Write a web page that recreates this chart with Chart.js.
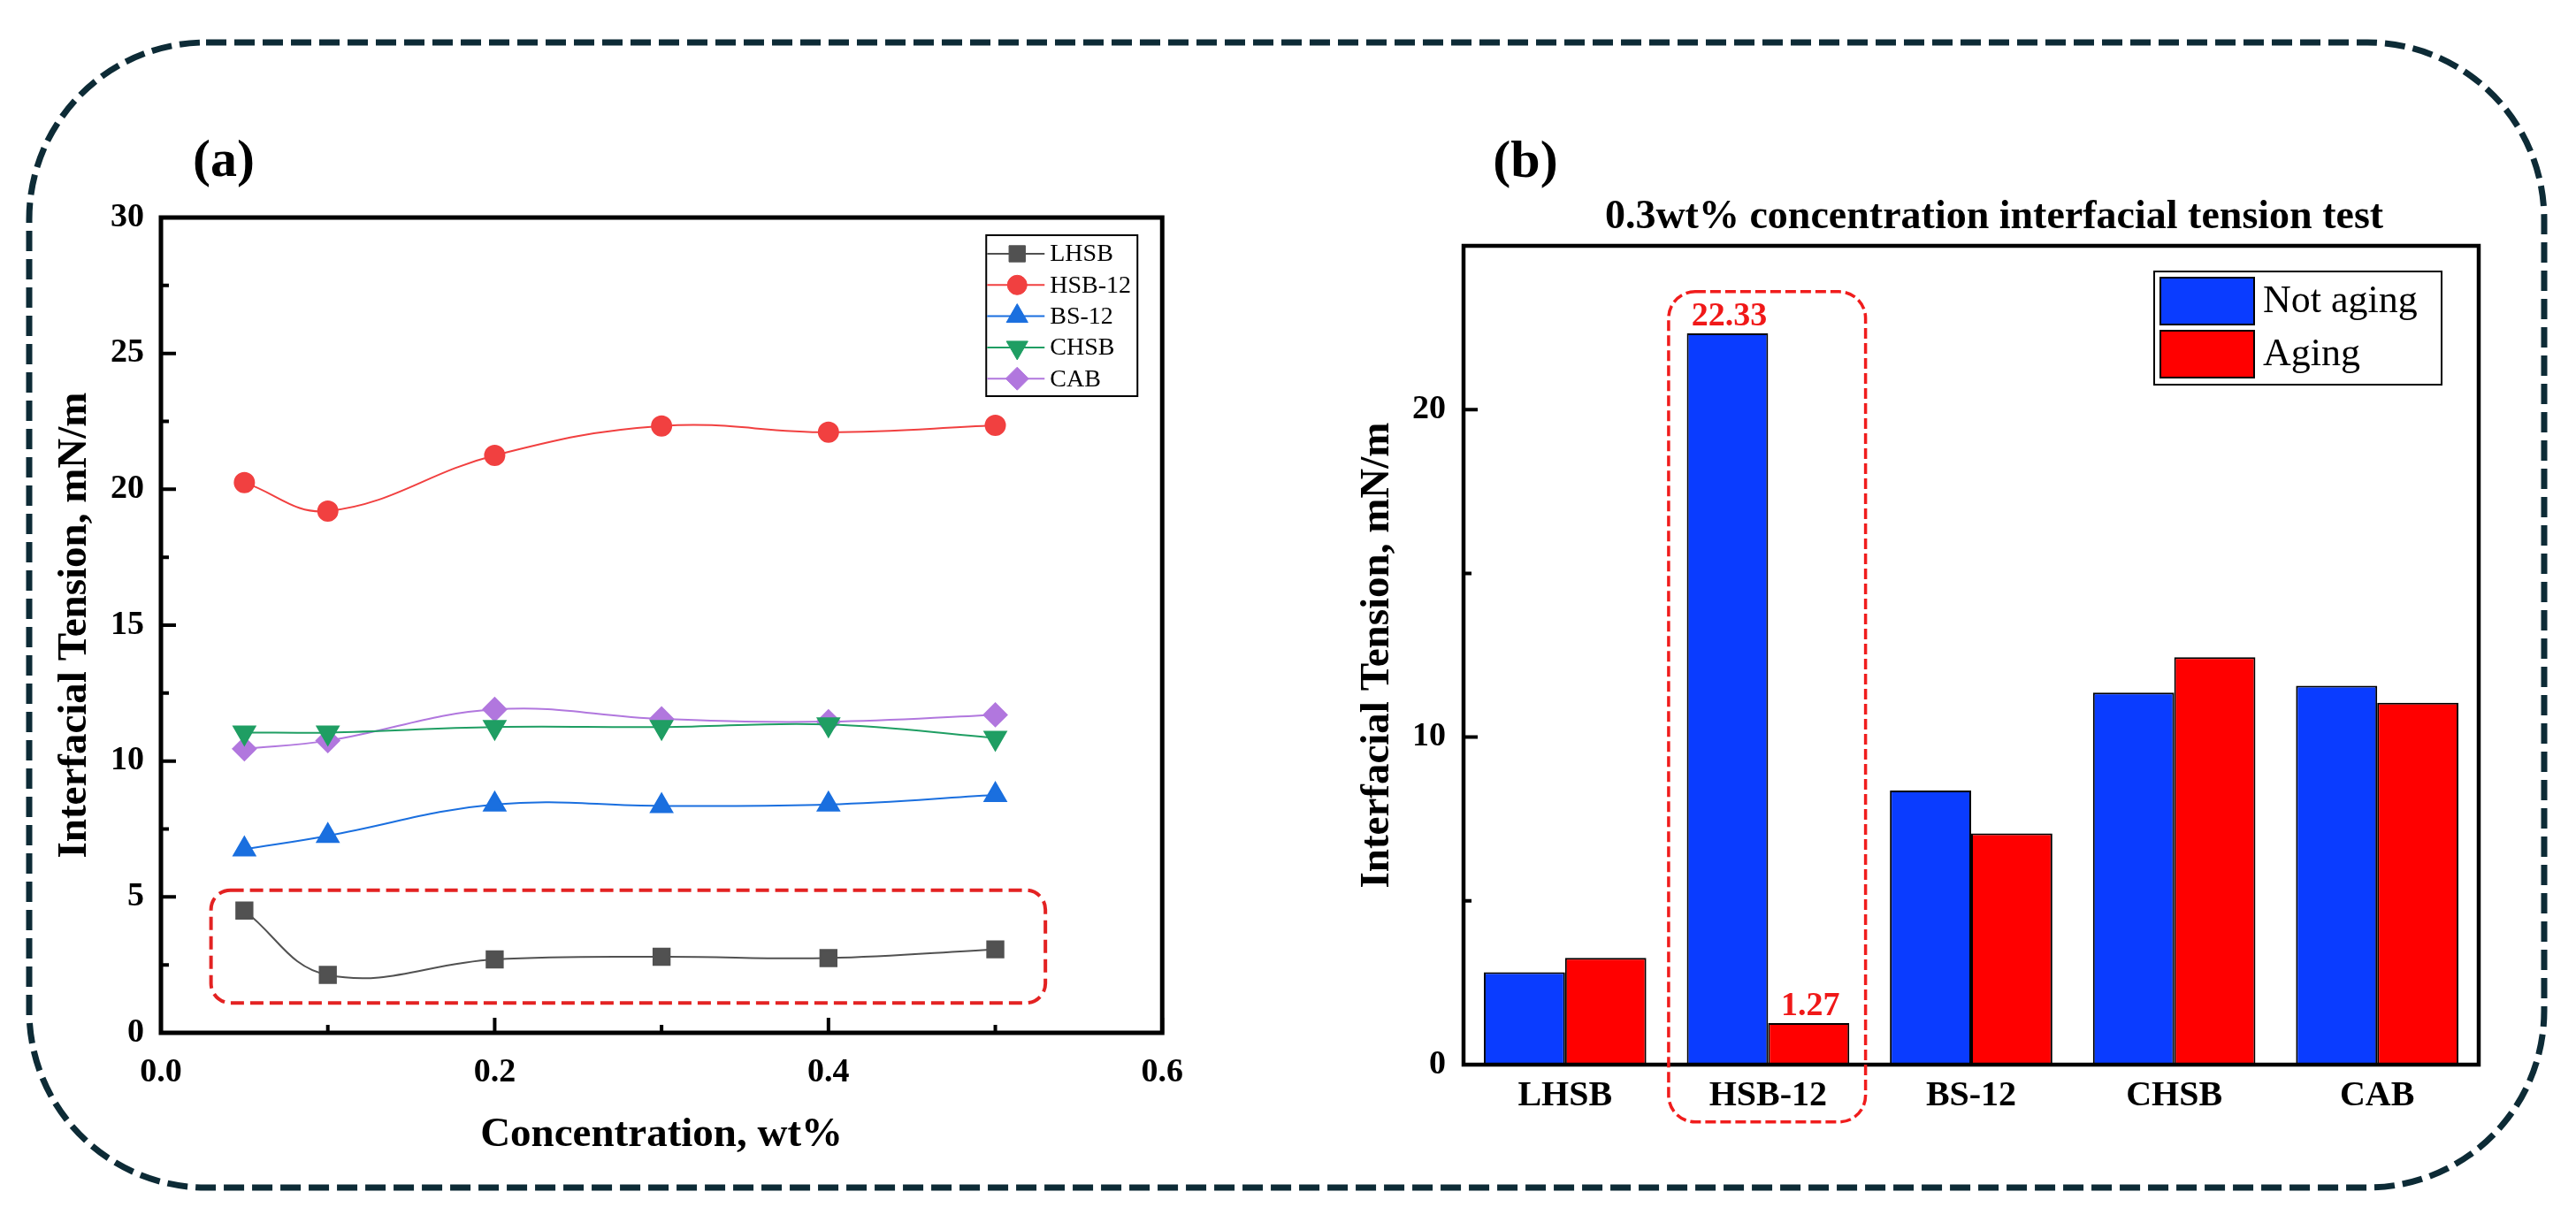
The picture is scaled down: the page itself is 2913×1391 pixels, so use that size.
<!DOCTYPE html>
<html>
<head>
<meta charset="utf-8">
<script src="https://cdn.jsdelivr.net/npm/chart.js@4.4.1/dist/chart.umd.min.js"></script>
<style>
  html, body { margin: 0; padding: 0; background: #fff; }
  #page { position: relative; width: 2913px; height: 1391px; overflow: hidden; background: #fff; }
  #frame { position: absolute; left: 0; top: 0; }
  canvas { position: absolute; }
  #chartA { left: 40px; top: 130px; }
  #chartB { left: 1480px; top: 130px; }
</style>
</head>
<body>
<div id="page">
  <svg id="frame" width="2913" height="1391">
    <rect x="33" y="48" width="2844" height="1295" rx="200" ry="200" fill="none"
          stroke="#0d2b36" stroke-width="7" stroke-dasharray="23 9"/>
  </svg>
  <canvas id="chartA" width="1320" height="1210"></canvas>
  <canvas id="chartB" width="1390" height="1210"></canvas>
</div>
<script>
'use strict';

// #pragma Data

// (a) interfacial tension vs concentration
let concentration = [0.05, 0.1, 0.2, 0.3, 0.4, 0.5];
let lhsb = [4.5, 2.13, 2.7, 2.8, 2.75, 3.07];
let hsb12 = [20.25, 19.2, 21.25, 22.33, 22.1, 22.35];
let bs12 = [6.75, 7.25, 8.4, 8.35, 8.4, 8.75];
let chsb = [11.05, 11.05, 11.25, 11.25, 11.35, 10.85];
let cab = [10.45, 10.75, 11.9, 11.55, 11.45, 11.7];
let xTicksA = [0, 0.2, 0.4, 0.6];
let yTicksA = [0, 5, 10, 15, 20, 25, 30];
let highlightA = { x: [0.03, 0.53], y: [1.1, 5.25] };

// (b) 0.3wt% test, not aging vs aging
let surfactants = ['LHSB', 'HSB-12', 'BS-12', 'CHSB', 'CAB'];
let notAging = [2.82, 22.33, 8.37, 11.36, 11.57];
let aging = [3.26, 1.27, 7.06, 12.44, 11.05];
let yTicksB = [0, 10, 20];
let yMaxB = 25;
let highlightB = { category: 'HSB-12', y: [-1.75, 23.6] };

// #pragma Helpers

const SERIF = "'Liberation Serif', 'Times New Roman', serif";

function roundRectPath(ctx, x, y, w, h, r) {
  ctx.beginPath();
  ctx.moveTo(x + r, y);
  ctx.lineTo(x + w - r, y);
  ctx.arcTo(x + w, y, x + w, y + r, r);
  ctx.lineTo(x + w, y + h - r);
  ctx.arcTo(x + w, y + h, x + w - r, y + h, r);
  ctx.lineTo(x + r, y + h);
  ctx.arcTo(x, y + h, x, y + h - r, r);
  ctx.lineTo(x, y + r);
  ctx.arcTo(x, y, x + r, y, r);
  ctx.closePath();
}

function midpoints(ticks) {
  let out = [];
  for (let i = 0; i < ticks.length - 1; i++) {
    out.push((ticks[i] + ticks[i + 1]) / 2);
  }
  return out;
}

// frame round the plot area plus inward major/minor ticks
function drawFrame(chart, o) {
  let ctx = chart.ctx;
  let a = chart.chartArea;
  ctx.save();
  ctx.strokeStyle = '#000';
  ctx.lineWidth = o.tickWidth;
  ctx.beginPath();
  let ys = chart.scales.y;
  o.yMajor.forEach(v => { let y = ys.getPixelForValue(v); ctx.moveTo(a.left, y); ctx.lineTo(a.left + o.major, y); });
  o.yMinor.forEach(v => { let y = ys.getPixelForValue(v); ctx.moveTo(a.left, y); ctx.lineTo(a.left + o.minor, y); });
  if (o.xMajor) {
    let xs = chart.scales.x;
    o.xMajor.forEach(v => { let x = xs.getPixelForValue(v); ctx.moveTo(x, a.bottom); ctx.lineTo(x, a.bottom - o.major); });
    o.xMinor.forEach(v => { let x = xs.getPixelForValue(v); ctx.moveTo(x, a.bottom); ctx.lineTo(x, a.bottom - o.minor); });
  }
  ctx.stroke();
  ctx.lineWidth = o.lineWidth;
  ctx.strokeRect(a.left, a.top, a.right - a.left, a.bottom - a.top);
  ctx.restore();
}

function drawMarker(ctx, ds, x, y) {
  ctx.fillStyle = ds.pointBackgroundColor;
  ctx.strokeStyle = ds.pointBorderColor;
  ctx.lineWidth = 1;
  Chart.helpers.drawPoint(ctx, {
    pointStyle: ds.pointStyle,
    radius: ds.pointRadius,
    rotation: ds.pointRotation || 0,
    borderWidth: 1,
  }, x, y);
}

function lineSeries(label, data, color, style, radius, rotation) {
  return {
    label: label,
    data: data.map((v, i) => ({ x: concentration[i], y: v })),
    borderColor: color,
    backgroundColor: color,
    pointBackgroundColor: color,
    pointBorderColor: color,
    pointStyle: style,
    pointRadius: radius,
    pointHoverRadius: radius,
    pointRotation: rotation || 0,
    borderWidth: 2,
    tension: 0.4,
    fill: false,
  };
}

// #pragma Plugins

let panelA = {
  id: 'panelA',
  afterDatasetsDraw(chart) {
    let ctx = chart.ctx;
    let a = chart.chartArea;
    let xs = chart.scales.x, ys = chart.scales.y;

    // red dashed box round the LHSB curve
    let x0 = xs.getPixelForValue(highlightA.x[0]);
    let x1 = xs.getPixelForValue(highlightA.x[1]);
    let y0 = ys.getPixelForValue(highlightA.y[1]);
    let y1 = ys.getPixelForValue(highlightA.y[0]);
    ctx.save();
    ctx.strokeStyle = '#e32222';
    ctx.lineWidth = 4;
    ctx.setLineDash([15, 7]);
    roundRectPath(ctx, x0, y0, x1 - x0, y1 - y0, 22);
    ctx.stroke();
    ctx.restore();

    // legend: line with marker through it
    let bx = a.right - 199, by = a.top + 20;
    ctx.save();
    ctx.fillStyle = '#fff';
    ctx.fillRect(bx, by, 171, 182);
    ctx.strokeStyle = '#000';
    ctx.lineWidth = 2;
    ctx.strokeRect(bx, by, 171, 182);
    ctx.font = '28px ' + SERIF;
    ctx.textBaseline = 'middle';
    ctx.textAlign = 'left';
    chart.data.datasets.forEach((ds, i) => {
      let y = by + 21 + i * 35.3;
      ctx.strokeStyle = ds.borderColor;
      ctx.lineWidth = 2;
      ctx.beginPath();
      ctx.moveTo(bx + 1, y);
      ctx.lineTo(bx + 66, y);
      ctx.stroke();
      drawMarker(ctx, ds, bx + 35, y);
      ctx.fillStyle = '#000';
      ctx.fillText(ds.label, bx + 72, y + 1);
    });
    ctx.restore();
  },
  afterDraw(chart) {
    let a = chart.chartArea;
    drawFrame(chart, {
      lineWidth: 5, tickWidth: 4, major: 17, minor: 9,
      yMajor: yTicksA, yMinor: midpoints(yTicksA),
      xMajor: xTicksA, xMinor: midpoints(xTicksA),
    });
    let ctx = chart.ctx;
    ctx.save();
    ctx.fillStyle = '#000';
    ctx.font = 'bold 60px ' + SERIF;
    ctx.textAlign = 'center';
    ctx.textBaseline = 'alphabetic';
    ctx.fillText('(a)', a.left + 71, a.top - 47);
    ctx.restore();
  },
};

let panelB = {
  id: 'panelB',
  afterDatasetsDraw(chart) {
    let ctx = chart.ctx;
    let a = chart.chartArea;
    let idx = surfactants.indexOf(highlightB.category);

    // value labels over the highlighted pair
    ctx.save();
    ctx.fillStyle = '#f01818';
    ctx.font = 'bold 38px ' + SERIF;
    ctx.textAlign = 'center';
    ctx.textBaseline = 'alphabetic';
    chart.data.datasets.forEach((ds, i) => {
      let bar = chart.getDatasetMeta(i).data[idx];
      ctx.fillText(ds.data[idx].toFixed(2), bar.x + 2, bar.y - 9);
    });
    ctx.restore();

    // legend with filled swatches
    let bx = a.right - 367, by = a.top + 29;
    ctx.save();
    ctx.fillStyle = '#fff';
    ctx.fillRect(bx, by, 325, 128);
    ctx.strokeStyle = '#000';
    ctx.lineWidth = 2;
    ctx.strokeRect(bx, by, 325, 128);
    ctx.font = '44px ' + SERIF;
    ctx.textBaseline = 'middle';
    ctx.textAlign = 'left';
    chart.data.datasets.forEach((ds, i) => {
      let sy = by + 7 + i * 60;
      ctx.fillStyle = ds.backgroundColor;
      ctx.fillRect(bx + 7, sy, 106, 53);
      ctx.strokeStyle = '#000';
      ctx.lineWidth = 2;
      ctx.strokeRect(bx + 7, sy, 106, 53);
      ctx.fillStyle = '#000';
      ctx.fillText(ds.label, bx + 123, sy + 27);
    });
    ctx.restore();
  },
  afterDraw(chart) {
    let ctx = chart.ctx;
    let a = chart.chartArea;
    let xs = chart.scales.x, ys = chart.scales.y;
    drawFrame(chart, {
      lineWidth: 4.5, tickWidth: 4, major: 16, minor: 9,
      yMajor: yTicksB, yMinor: midpoints(yTicksB),
    });

    // red dashed box round the HSB-12 pair
    let idx = surfactants.indexOf(highlightB.category);
    let x0 = xs.getPixelForValue(idx - 0.49);
    let x1 = xs.getPixelForValue(idx + 0.48);
    let y0 = ys.getPixelForValue(highlightB.y[1]);
    let y1 = ys.getPixelForValue(highlightB.y[0]);
    ctx.save();
    ctx.strokeStyle = '#f01c1c';
    ctx.lineWidth = 3.5;
    ctx.setLineDash([12, 5]);
    roundRectPath(ctx, x0, y0, x1 - x0, y1 - y0, 30);
    ctx.stroke();
    ctx.restore();

    ctx.save();
    ctx.fillStyle = '#000';
    ctx.textAlign = 'center';
    ctx.textBaseline = 'alphabetic';
    ctx.font = 'bold 60px ' + SERIF;
    ctx.fillText('(b)', a.left + 70, a.top - 78);
    ctx.font = 'bold 46px ' + SERIF;
    ctx.fillText('0.3wt% concentration interfacial tension test', (a.left + a.right) / 2 + 26, a.top - 20);
    ctx.restore();
  },
};

// #pragma Charts

let tickFontA = { family: SERIF, size: 38, weight: 'bold' };
let tickFontB = { family: SERIF, size: 40, weight: 'bold' };
let titleFont = { family: SERIF, size: 47, weight: 'bold' };

let chartA = new Chart(document.getElementById('chartA').getContext('2d'), {
  type: 'line',
  data: {
    datasets: [
      lineSeries('LHSB', lhsb, '#515151', 'rect', 13),
      lineSeries('HSB-12', hsb12, '#f14040', 'circle', 11),
      lineSeries('BS-12', bs12, '#1a6fdf', 'triangle', 14),
      lineSeries('CHSB', chsb, '#1f9e63', 'triangle', 14, 180),
      lineSeries('CAB', cab, '#b177de', 'rectRot', 13),
    ],
  },
  options: {
    responsive: false,
    animation: false,
    layout: { padding: { top: 116, right: 34, left: 0, bottom: 0 } },
    plugins: { legend: { display: false }, tooltip: { enabled: false } },
    scales: {
      x: {
        type: 'linear',
        min: xTicksA[0],
        max: xTicksA[xTicksA.length - 1],
        afterFit: s => { s.height = 172; },
        grid: { display: false, drawTicks: false },
        border: { display: false },
        ticks: {
          stepSize: xTicksA[1] - xTicksA[0],
          font: tickFontA, color: '#000', padding: 22, maxRotation: 0,
          callback: v => Number(v).toFixed(1),
        },
        title: { display: true, text: 'Concentration, wt%', font: titleFont, color: '#000', padding: { top: 0, bottom: 28 } },
      },
      y: {
        min: yTicksA[0],
        max: yTicksA[yTicksA.length - 1],
        afterFit: s => { s.width = 142; },
        grid: { display: false, drawTicks: false },
        border: { display: false },
        ticks: { stepSize: yTicksA[1] - yTicksA[0], font: tickFontA, color: '#000', padding: 19 },
        title: { display: true, text: 'Interfacial Tension, mN/m', font: titleFont, color: '#000', padding: { top: 17, bottom: 0 } },
      },
    },
  },
  plugins: [panelA],
});

let chartB = new Chart(document.getElementById('chartB').getContext('2d'), {
  type: 'bar',
  data: {
    labels: surfactants,
    datasets: [{
      label: 'Not aging',
      data: notAging,
      backgroundColor: '#0a3cff',
      borderColor: '#000',
      borderWidth: 2,
      categoryPercentage: 0.8,
      barPercentage: 1.0,
    }, {
      label: 'Aging',
      data: aging,
      backgroundColor: '#ff0000',
      borderColor: '#000',
      borderWidth: 2,
      categoryPercentage: 0.8,
      barPercentage: 1.0,
    }],
  },
  options: {
    responsive: false,
    animation: false,
    layout: { padding: { top: 148, right: 67, left: 0, bottom: 0 } },
    plugins: { legend: { display: false }, tooltip: { enabled: false } },
    scales: {
      x: {
        afterFit: s => { s.height = 136; },
        grid: { display: false, drawTicks: false },
        border: { display: false },
        ticks: { font: tickFontB, color: '#000', padding: 12, maxRotation: 0 },
      },
      y: {
        min: yTicksB[0],
        max: yMaxB,
        afterFit: s => { s.width = 175; },
        grid: { display: false, drawTicks: false },
        border: { display: false },
        ticks: {
          stepSize: yTicksB[1] - yTicksB[0],
          font: tickFontA, color: '#000', padding: 20,
          callback: v => (yTicksB.indexOf(v) >= 0 ? v : ''),
        },
        title: { display: true, text: 'Interfacial Tension, mN/m', font: titleFont, color: '#000', padding: { top: 50, bottom: 0 } },
      },
    },
  },
  plugins: [panelB],
});
</script>
</body>
</html>
